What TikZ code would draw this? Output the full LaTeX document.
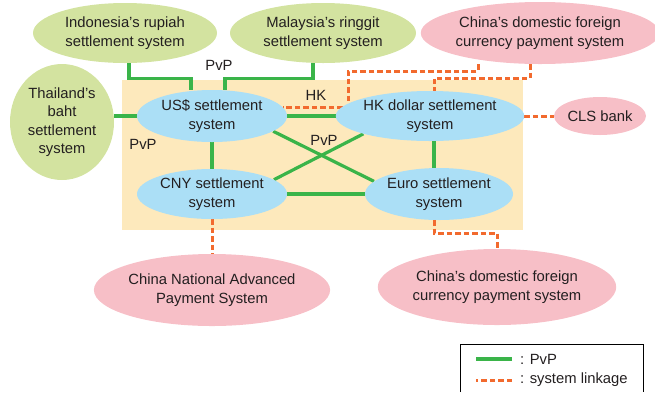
\documentclass[tikz,border=0pt]{standalone}
\usepackage{fontspec}
\setmainfont{Liberation Sans}
\usetikzlibrary{positioning,shapes.geometric}

\definecolor{txtgray}{HTML}{231F20}
\definecolor{asiagreen}{HTML}{D3E3A0}
\definecolor{linkpink}{HTML}{F7BFC7}
\definecolor{coreblue}{HTML}{ABDFF6}
\definecolor{corebg}{HTML}{FDE9BC}
\definecolor{pvpgreen}{HTML}{3AB449}
\definecolor{linkorange}{HTML}{F26A2E}

\pgfdeclarelayer{bg}
\pgfdeclarelayer{wires}
\pgfsetlayers{bg,wires,main}

\begin{document}
\begin{tikzpicture}[x=1pt, y=-1pt,
  font=\fontsize{14.8}{18.5}\selectfont, text=txtgray,
  sys/.style={ellipse, inner sep=0pt, align=center},
  asia/.style={sys, fill=asiagreen},
  home/.style={sys, fill=linkpink},
  core/.style={sys, fill=coreblue},
  pvp/.style={draw=pvpgreen, line width=3.2pt},
  link/.style={draw=linkorange, line width=3pt, dash pattern=on 5.5pt off 3pt},
  lbl/.style={inner sep=1pt}
]
\useasboundingbox (0,0) rectangle (655,392);

\begin{pgfonlayer}{bg}
\fill[corebg] (122,80) rectangle (523,230);
\end{pgfonlayer}

\node[asia, minimum width=184, minimum height=60]  (indo)   at (125,33)  {Indonesia's rupiah\\settlement system};
\node[asia, minimum width=186, minimum height=60]  (malay)  at (323,33)  {Malaysia's ringgit\\settlement system};
\node[home, minimum width=230, minimum height=62]  (chinaT) at (540,33)  {China's domestic foreign\\currency payment system};
\node[asia, minimum width=104, minimum height=116] (thai)   at (62,122)  {Thailand's\\baht\\settlement\\system};
\node[core, minimum width=150, minimum height=52]  (usd)    at (212,116) {US\$ settlement\\system};
\node[core, minimum width=148, minimum height=50]  (hk)     at (430,116) {HK dollar settlement\\system};
\node[home, minimum width=86,  minimum height=38]  (cls)    at (600,116) {CLS bank};
\node[core, minimum width=150, minimum height=50]  (cny)    at (212,194) {CNY settlement\\system};
\node[core, minimum width=148, minimum height=52]  (euro)   at (439,194) {Euro settlement\\system};
\node[home, minimum width=230, minimum height=72]  (chinaN) at (212,290) {China National Advanced\\Payment System};
\node[home, minimum width=214, minimum height=76]  (chinaB) at (497,287) {China's domestic foreign\\currency payment system};

\node[lbl] (pvptop)  at (219,65)  {PvP};
\node[lbl] (pvpleft) at (143,144) {PvP};
\node[lbl] (pvpmid)  at (324,140) {PvP};
\node[lbl] (hklbl)   at (316,95)  {HK};

\coordinate (hkbend) at (348,71);

\begin{pgfonlayer}{wires}
\draw[pvp] ([xshift=4pt]indo.south) -- ++(0,15) -| ([xshift=-21pt]usd.north);
\draw[pvp] ([xshift=-10pt]malay.south) -- ++(0,15) -| ([xshift=13pt]usd.north);
\draw[pvp] (usd.west) -- (usd.west -| thai.east);
\draw[pvp] (usd.east) -- (hk.west);
\draw[pvp] (usd.south) -- (cny.north);
\draw[pvp] ([xshift=4pt]hk.south) -- ([xshift=4pt]hk.south |- euro.north);
\draw[pvp] (cny.east) -- (euro.west);
\draw[pvp] (usd.-14) -- (euro.169);
\draw[pvp] (cny.13) -- (hk.195);

\draw[link] ([xshift=-62pt]chinaT.south) |- (hkbend) |- (usd.7);
\draw[link] ([xshift=-10pt]chinaT.south) -- ++(0,14) -| ([xshift=4pt]hk.north);
\draw[link] (hk.east) -- (cls.west);
\draw[link] (cny.south) -- (chinaN.north);
\draw[link] ([xshift=-5pt]euro.south) -- ++(0,13) -| (chinaB.north);
\end{pgfonlayer}

\node[lbl, anchor=west] (legpvp)  at (519,359) {: PvP};
\node[lbl, anchor=west] (leglink) at (519,380) {: system linkage};
\draw[pvp]  ([xshift=-7pt]legpvp.west)  -- ++(-36,0);
\draw[link] ([xshift=-7pt]leglink.west) -- ++(-36,0);
\draw[line width=0.9pt] (460,392) |- (643,344) -- (643,392);
\end{tikzpicture}
\end{document}
